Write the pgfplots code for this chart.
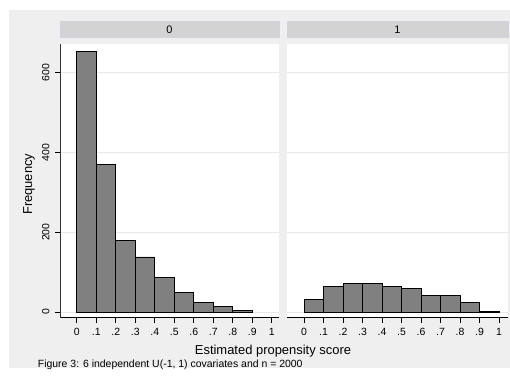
\documentclass[border=0pt]{standalone}
\usepackage{pgfplots}
\pgfplotsset{compat=1.18}
\usepackage{fontspec}
\setmainfont{Liberation Sans}
\definecolor{bggray}{RGB}{239,239,239}
\definecolor{stripgray}{RGB}{211,211,211}
\definecolor{stripedge}{RGB}{206,212,226}
\definecolor{bargray}{RGB}{128,128,128}
\definecolor{gridgray}{RGB}{232,232,232}
\definecolor{axisgray}{RGB}{50,50,50}
\pgfplotsset{
  panel/.style={
    scale only axis, height=274bp,
    ymin=-15, ymax=672,
    xtick={0,0.1,0.2,0.3,0.4,0.5,0.6,0.7,0.8,0.9,1},
    xticklabels={0,.1,.2,.3,.4,.5,.6,.7,.8,.9,1},
    ytick={0,200,400,600},
    ymajorgrids, major grid style={gridgray, line width=0.8bp},
    axis x line=bottom, axis y line=left,
    x axis line style={-, black, line width=1bp},
    y axis line style={-, axisgray, line width=1bp},
    tick align=outside, major tick length=5bp,
    tick style={black, line width=0.7bp},
    ticklabel style={font=\fontsize{10.5}{12}\selectfont},
    xticklabel shift=2bp, yticklabel shift=2bp,
    /pgf/number format/assume math mode=true,
    axis background/.style={fill=white},
    title style={at={(0.5,1)}, anchor=south, fill=stripgray, draw=stripedge, line width=0.6bp,
      minimum height=16bp, inner sep=0pt, font=\fontsize{11}{12}\selectfont},
  },
  bars/.style={ybar interval, fill=bargray, draw=black, line width=0.8bp},
}
\begin{document}
\begin{tikzpicture}
\useasboundingbox (0bp,0bp) rectangle (510bp,378bp);
\fill[white] (0bp,0bp) rectangle (510bp,378bp);
\fill[bggray] (9bp,10bp) rectangle (510bp,368bp);
\begin{axis}[panel, at={(60bp,60bp)}, anchor=south west, width=219bp,
  xmin=-0.0856, xmax=1.037,
  title={0}, title style={minimum width=219bp},
  yticklabel style={rotate=90, anchor=south}]
\addplot[bars] coordinates {(0,653) (0.1,369) (0.2,180) (0.3,138) (0.4,86) (0.5,50) (0.6,25) (0.7,14) (0.8,3) (0.9,0)};
\end{axis}
\begin{axis}[panel, at={(287bp,60bp)}, anchor=south west, width=221bp,
  xmin=-0.0872, xmax=1.046,
  title={1}, title style={minimum width=221bp},
  y axis line style={draw=none}, ytick style={draw=none}, yticklabels={}]
\addplot[bars] coordinates {(0,32) (0.1,65) (0.2,71) (0.3,72) (0.4,64) (0.5,59) (0.6,42) (0.7,41) (0.8,25) (0.9,1) (1.0,0)};
\end{axis}
\node[anchor=base, inner sep=0pt, font=\fontsize{13}{15}\selectfont] at (273bp,23.7bp) {Estimated propensity score};
\node[rotate=90, anchor=base, inner sep=0pt, font=\fontsize{13}{15}\selectfont] at (32bp,193.7bp) {Frequency};
\node[anchor=base west, inner sep=0pt, font=\fontsize{10.5}{12}\selectfont] at (37.7bp,11bp) {Figure 3: 6 independent U(-1, 1) covariates and n = 2000};
\end{tikzpicture}
\end{document}
